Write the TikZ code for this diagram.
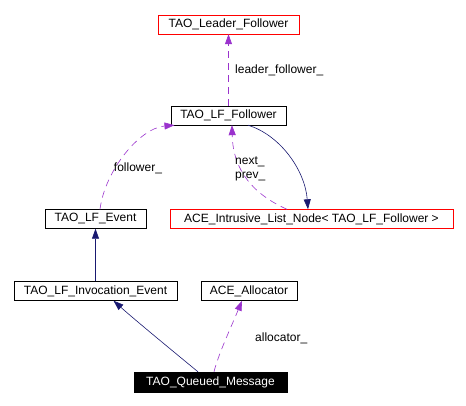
\documentclass[tikz,border=0pt]{standalone}
\usepackage{fontspec}
\setmainfont{Liberation Sans}
\usetikzlibrary{arrows.meta}
\definecolor{navyedge}{RGB}{25,25,112}
\definecolor{violetedge}{RGB}{154,50,205}
\tikzset{
  cls/.style={draw=black, inner sep=0pt, minimum height=19pt, font=\fontsize{12}{14}\selectfont},
  extcls/.style={cls, draw=red},
  curcls/.style={cls, fill=black, text=white},
  inherit/.style={draw=navyedge, line width=0.6pt, -{Triangle[length=10pt,width=7pt]}},
  uses/.style={draw=violetedge, line width=0.6pt, dash pattern=on 7pt off 5pt, -{Triangle[length=10pt,width=7pt]}},
  edgelabel/.style={font=\fontsize{12}{14}\selectfont, inner sep=0pt}
}
\begin{document}
\begin{tikzpicture}[x=1pt, y=-1pt]

  \useasboundingbox (0,0) rectangle (466,406);

  \node[extcls, minimum width=141pt] (leader)   at (228.5, 24.5) {TAO\_Leader\_Follower};
  \node[cls,    minimum width=115pt] (follower) at (228.5,115.5) {TAO\_LF\_Follower};
  \node[extcls, minimum width=283pt] (listnode) at (311.5,219)   {ACE\_Intrusive\_List\_Node< TAO\_LF\_Follower >};
  \node[cls,    minimum width=101pt] (event)    at (95.5, 219)   {TAO\_LF\_Event};
  \node[cls,    minimum width=163pt] (invoc)    at (95.5, 291)   {TAO\_LF\_Invocation\_Event};
  \node[cls,    minimum width=96pt]  (alloc)    at (249,  291)   {ACE\_Allocator};
  \node[curcls, minimum width=153pt, minimum height=20pt] (queued) at (210.5,382) {TAO\_Queued\_Message};

  \draw[uses] (follower.north) -- (leader.south); %% follower->leader
  \node[edgelabel, anchor=west] (lflabel) at (235,70) {leader\_follower\_};

  \draw[uses] ([xshift=4.5pt]event.north) .. controls (105,170) and (140,128) .. ([xshift=-54pt]follower.south); %% event->follower
  \node[edgelabel] (evlabel) at (138,168) {follower\_};

  \draw[inherit] ([xshift=19.5pt]follower.south) .. controls (280,135) and (305,170) .. ([xshift=-3.5pt]listnode.north); %% follower->listnode
  \draw[uses] ([xshift=-24.5pt]listnode.north) .. controls (255,195) and (233,172) .. ([xshift=3.5pt]follower.south); %% listnode->follower
  \node[edgelabel, anchor=west, align=left] (nplabel) at (235,169) {next\_\\prev\_};

  \draw[inherit] (invoc.north) -- (event.south); %% invoc->event

  \draw[inherit] ([xshift=-12.5pt]queued.north) .. controls (180,357) and (135,320) .. ([xshift=18pt]invoc.south); %% queued->invoc
  \draw[uses] ([xshift=3.5pt]queued.north) .. controls (218,355) and (232,325) .. ([xshift=-7pt]alloc.south); %% queued->alloc
  \node[edgelabel, anchor=west] (allabel) at (255,338) {allocator\_};

\end{tikzpicture}
\end{document}
